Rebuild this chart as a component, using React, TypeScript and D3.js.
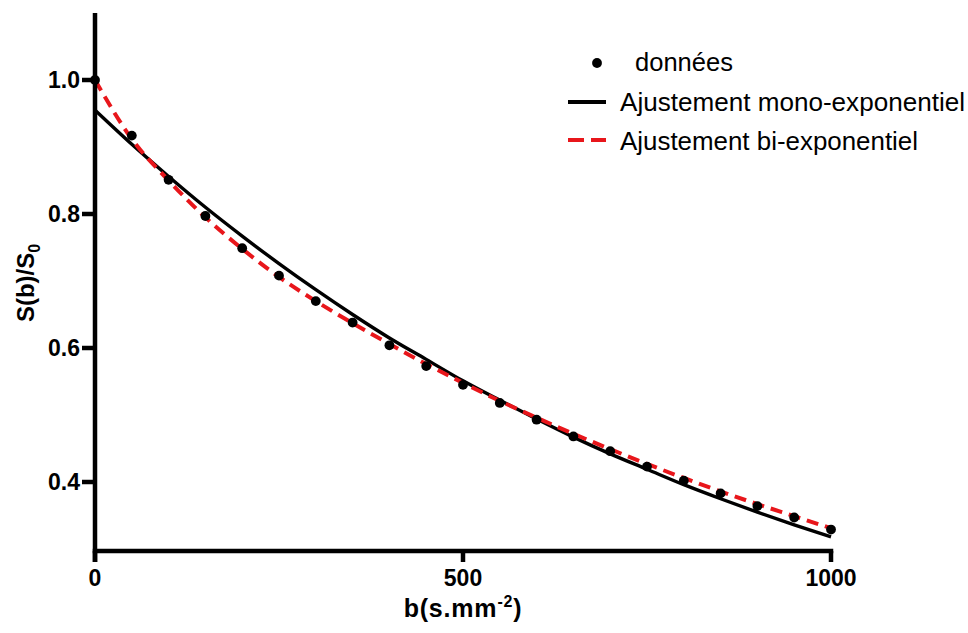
import React from "react";
import * as d3 from "d3";

const bValues = [0, 50, 100, 150, 200, 250, 300, 350, 400, 450, 500, 550, 600, 650, 700, 750, 800, 850, 900, 950, 1000];
const donnees = [1.0, 0.917, 0.851, 0.797, 0.749, 0.708, 0.670, 0.638, 0.604, 0.573, 0.545, 0.518, 0.493, 0.468, 0.446, 0.423, 0.402, 0.383, 0.364, 0.347, 0.329];
const monoFit = [0.955, 0.904, 0.856, 0.810, 0.767, 0.726, 0.687, 0.650, 0.615, 0.583, 0.551, 0.522, 0.494, 0.467, 0.442, 0.419, 0.396, 0.375, 0.355, 0.336, 0.318];
const biFit = [1.0, 0.912, 0.850, 0.795, 0.748, 0.706, 0.670, 0.637, 0.606, 0.576, 0.548, 0.521, 0.496, 0.472, 0.449, 0.427, 0.406, 0.386, 0.367, 0.349, 0.331];
const xTicks = [0, 500, 1000];
const yTicks = [0.4, 0.6, 0.8, 1.0];
const legendLabels = ["données", "Ajustement mono-exponentiel", "Ajustement bi-exponentiel"];

const W = 968;
const H = 633;
const FONT = "'Liberation Sans', Arial, Helvetica, sans-serif";

export default function App() {
  const x = d3.scaleLinear().domain([0, 1000]).range([95, 831]);
  const y = d3.scaleLinear().domain([0.3, 1.1]).range([549, 13]);
  const axisY = y(0.3) + 2;

  const line = (vals: number[]) =>
    d3
      .line<number>()
      .x((_, i) => x(bValues[i]))
      .y((v) => y(v))
      .curve(d3.curveMonotoneX)(vals) || "";

  return (
    <svg width={W} height={H} style={{ position: "absolute", left: 0, top: 0, background: "#fff" }}>
      <rect x={0} y={0} width={W} height={H} fill="#fff" />
      {/* curves */}
      <path d={line(monoFit)} fill="none" stroke="#000" strokeWidth={3.4} />
      <path d={line(biFit)} fill="none" stroke="#e8161b" strokeWidth={4} strokeDasharray="12 7" />
      {/* data points */}
      {bValues.map((b, i) => (
        <circle key={b} cx={x(b)} cy={y(donnees[i])} r={4.9} fill="#000" />
      ))}
      {/* y axis */}
      <line x1={x(0)} x2={x(0)} y1={13} y2={axisY + 11} stroke="#000" strokeWidth={4.5} />
      {yTicks.map((t) => (
        <g key={t}>
          <line x1={x(0) - 13} x2={x(0)} y1={y(t)} y2={y(t)} stroke="#000" strokeWidth={4.5} />
          <text x={x(0) - 15} y={y(t) + 8} textAnchor="end" fontFamily={FONT} fontWeight="bold" fontSize={23} fill="#000">
            {t.toFixed(1)}
          </text>
        </g>
      ))}
      {/* x axis */}
      <line x1={x(0) - 2.25} x2={x(1000) + 2.25} y1={axisY} y2={axisY} stroke="#000" strokeWidth={4.5} />
      {xTicks.map((t) => (
        <g key={t}>
          <line x1={x(t)} x2={x(t)} y1={axisY} y2={axisY + 11} stroke="#000" strokeWidth={4.5} />
          <text x={x(t)} y={586} textAnchor="middle" fontFamily={FONT} fontWeight="bold" fontSize={23} fill="#000">
            {t}
          </text>
        </g>
      ))}
      {/* axis titles */}
      <text x={463} y={617} textAnchor="middle" fontFamily={FONT} fontWeight="bold" fontSize={25} fill="#000" letterSpacing={0.8}>
        b(s.mm
        <tspan dy={-10} fontSize={16}>-2</tspan>
        <tspan dy={10}>)</tspan>
      </text>
      <text
        transform={`translate(34, 283) rotate(-90)`}
        textAnchor="middle"
        fontFamily={FONT}
        fontWeight="bold"
        fontSize={24}
        fill="#000"
      >
        S(b)/S
        <tspan dy={6} fontSize={16}>0</tspan>
      </text>
      {/* legend */}
      <circle cx={597} cy={63} r={4.9} fill="#000" />
      <text x={635} y={71} fontFamily={FONT} fontSize={25} fill="#000" textLength={98} lengthAdjust="spacingAndGlyphs">{legendLabels[0]}</text>
      <line x1={568} x2={606} y1={102} y2={102} stroke="#000" strokeWidth={4} />
      <text x={620} y={111} fontFamily={FONT} fontSize={25} fill="#000" textLength={345} lengthAdjust="spacingAndGlyphs">{legendLabels[1]}</text>
      <line x1={568} x2={606} y1={140} y2={140} stroke="#e8161b" strokeWidth={4} strokeDasharray="16 7" />
      <text x={620} y={150} fontFamily={FONT} fontSize={25} fill="#000" textLength={298} lengthAdjust="spacingAndGlyphs">{legendLabels[2]}</text>
    </svg>
  );
}
